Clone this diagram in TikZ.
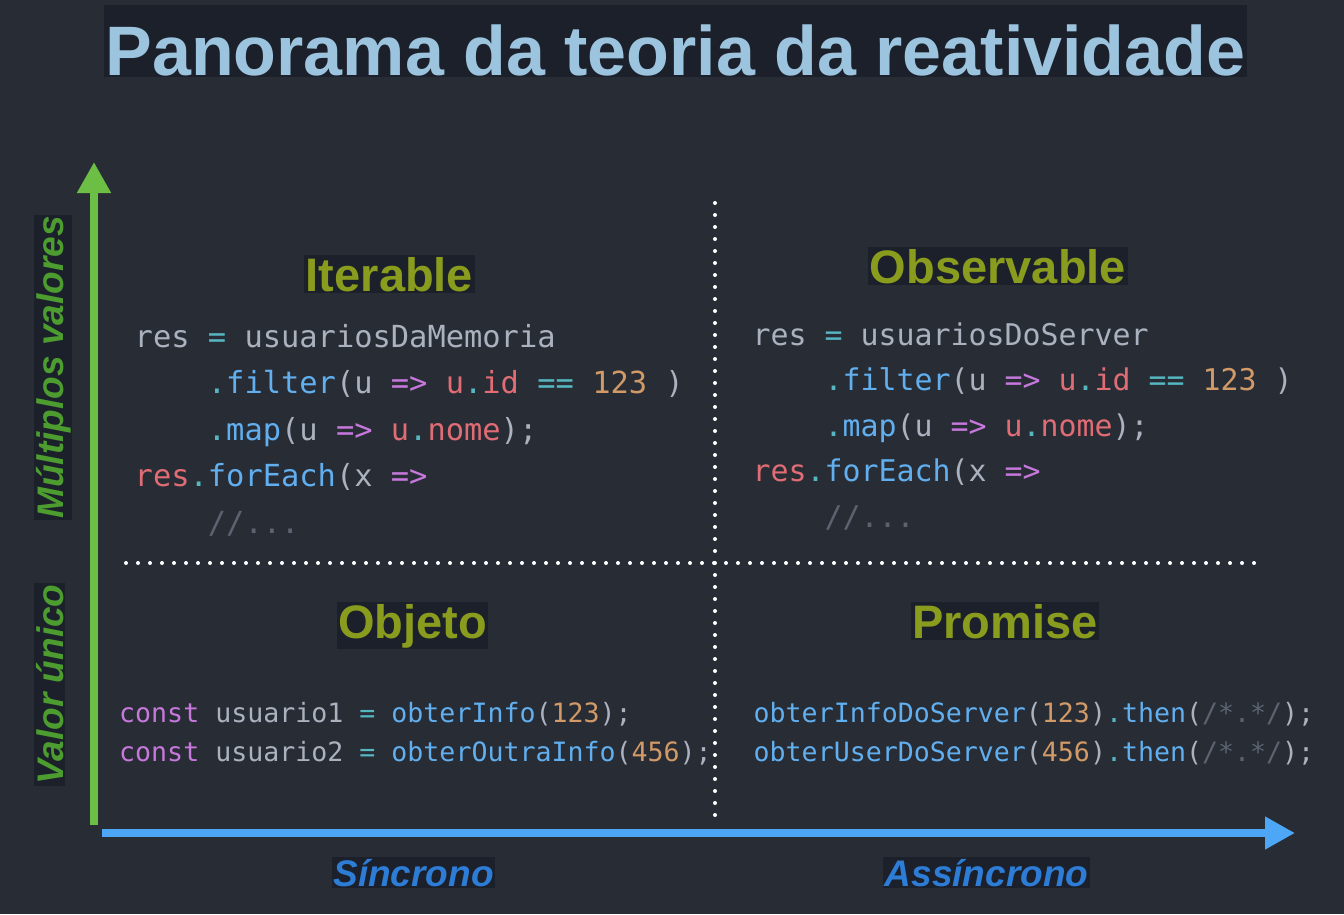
\documentclass[tikz,border=0pt]{standalone}
\usepackage{fontspec}
\setmainfont{Liberation Sans}
\newfontfamily\codefont{DejaVu Sans Mono}
\usetikzlibrary{arrows.meta}

% palette
\definecolor{bg}{HTML}{282C34}
\definecolor{hlbox}{HTML}{1B202B}
\definecolor{titlecol}{HTML}{9CC4DE}
\definecolor{headcol}{HTML}{8A9C1E}
\definecolor{vlabel}{HTML}{4C9C30}
\definecolor{hlabel}{HTML}{2D7DD7}
\definecolor{yaxis}{HTML}{6CBE45}
\definecolor{xaxis}{HTML}{4EA6F7}
% syntax colours
\definecolor{pl}{HTML}{ABB2BF}
\definecolor{op}{HTML}{56B6C2}
\definecolor{fn}{HTML}{61AFEF}
\definecolor{vr}{HTML}{E06C75}
\definecolor{kw}{HTML}{C678DD}
\definecolor{nm}{HTML}{D19A66}
\definecolor{cm}{HTML}{5C6370}

\newcommand\ctok[2]{\textcolor{#1}{#2}}

\tikzset{
  title/.style={fill=hlbox, text=titlecol, anchor=base, inner xsep=2pt, inner ysep=0pt,
    text height=70pt, text depth=2pt, font=\fontsize{70}{70}\selectfont\bfseries},
  heading/.style={fill=hlbox, text=headcol, anchor=base, inner sep=1.5pt,
    font=\fontsize{47}{47}\selectfont\bfseries},
  vlab/.style={fill=hlbox, text=vlabel, anchor=base, rotate=90, inner sep=1.5pt,
    font=\fontsize{37}{37}\selectfont\bfseries\itshape},
  hlab/.style={fill=hlbox, text=hlabel, anchor=base, inner sep=1.5pt,
    font=\fontsize{37}{37}\selectfont\bfseries\itshape},
  codebig/.style={text=pl, anchor=base west, inner sep=0pt,
    font=\fontsize{30.4}{30.4}\selectfont\codefont},
  coderight/.style={text=pl, anchor=base west, inner sep=0pt,
    font=\fontsize{29.9}{29.9}\selectfont\codefont},
  codesmall/.style={text=pl, anchor=base west, inner sep=0pt,
    font=\fontsize{26.6}{26.6}\selectfont\codefont},
  divider/.style={white, line width=4pt, line cap=round, dash pattern=on 0pt off 12pt},
  yarrow/.style={yaxis, line width=8pt, -{Triangle[width=32pt,length=31pt]}},
  xarrow/.style={xaxis, line width=8.5pt, -{Triangle[width=31pt,length=30pt]}},
}

\begin{document}
\begin{tikzpicture}[x=1pt,y=-1pt]
  \fill[bg] (0,0) rectangle (1344,914);
  \useasboundingbox (0,0) rectangle (1344,914);

  % title
  \node[title] (ttl) at (675.5,75) {Panorama da teoria da reatividade};

  % axes
  \coordinate (yfrom) at (94,825);
  \coordinate (yto) at (94,162);
  \coordinate (xfrom) at (102,833);
  \coordinate (xto) at (1295,833);
  \draw[yarrow] (yfrom) -- (yto);
  \draw[xarrow] (xfrom) -- (xto);

  % quadrant dividers
  \coordinate (vtop) at (715,203);
  \coordinate (vbot) at (715,818);
  \coordinate (hleft) at (126,563);
  \coordinate (hright) at (1258,563);
  \draw[divider] (vtop) -- (vbot);
  \draw[divider] (hleft) -- (hright);

  % axis labels
  \node[vlab] (multi) at (63,367.5) {Múltiplos valores};
  \node[vlab] (single) at (63,684.5) {Valor único};
  \node[hlab] (sync) at (413.5,886) {Síncrono};
  \node[hlab] (async) at (986.5,886) {Assíncrono};

  % quadrant headings
  \node[heading] (iter) at (389.5,291) {Iterable};
  \node[heading] (obs) at (998,283) {Observable};
  \node[heading] (obj) at (412.5,638) {Objeto};
  \node[heading] (prom) at (1005,638) {Promise};

  % Iterable code
  \node[codebig] (ia) at (134.5,347) {res \ctok{op}{=} usuariosDaMemoria};
  \node[codebig] (ib) at (207.7,393.5) {\ctok{op}{.}\ctok{fn}{filter}(u \ctok{kw}{=>} \ctok{vr}{u}\ctok{op}{.}\ctok{vr}{id} \ctok{op}{==} \ctok{nm}{123} )};
  \node[codebig] (ic) at (207.7,440) {\ctok{op}{.}\ctok{fn}{map}(u \ctok{kw}{=>} \ctok{vr}{u}\ctok{op}{.}\ctok{vr}{nome});};
  \node[codebig] (id) at (134.5,486.5) {\ctok{vr}{res}\ctok{op}{.}\ctok{fn}{forEach}(x \ctok{kw}{=>}};
  \node[codebig] (ie) at (207.7,533) {\ctok{cm}{//...}};

  % Observable code
  \node[coderight] (oa) at (752.5,345) {res \ctok{op}{=} usuariosDoServer};
  \node[coderight] (ob) at (824.5,390.5) {\ctok{op}{.}\ctok{fn}{filter}(u \ctok{kw}{=>} \ctok{vr}{u}\ctok{op}{.}\ctok{vr}{id} \ctok{op}{==} \ctok{nm}{123} )};
  \node[coderight] (oc) at (824.5,436) {\ctok{op}{.}\ctok{fn}{map}(u \ctok{kw}{=>} \ctok{vr}{u}\ctok{op}{.}\ctok{vr}{nome});};
  \node[coderight] (od) at (752.5,481.5) {\ctok{vr}{res}\ctok{op}{.}\ctok{fn}{forEach}(x \ctok{kw}{=>}};
  \node[coderight] (oe) at (824.5,527) {\ctok{cm}{//...}};

  % Objeto code
  \node[codesmall] (ja) at (119,722.5) {\ctok{kw}{const} usuario1 \ctok{op}{=} \ctok{fn}{obterInfo}(\ctok{nm}{123});};
  \node[codesmall] (jb) at (119,761.5) {\ctok{kw}{const} usuario2 \ctok{op}{=} \ctok{fn}{obterOutraInfo}(\ctok{nm}{456});};

  % Promise code
  \node[codesmall] (pa) at (753.5,722.5) {\ctok{fn}{obterInfoDoServer}(\ctok{nm}{123})\ctok{op}{.}\ctok{fn}{then}(\ctok{cm}{/*.*/});};
  \node[codesmall] (pb) at (753.5,761.5) {\ctok{fn}{obterUserDoServer}(\ctok{nm}{456})\ctok{op}{.}\ctok{fn}{then}(\ctok{cm}{/*.*/});};
\end{tikzpicture}
\end{document}
